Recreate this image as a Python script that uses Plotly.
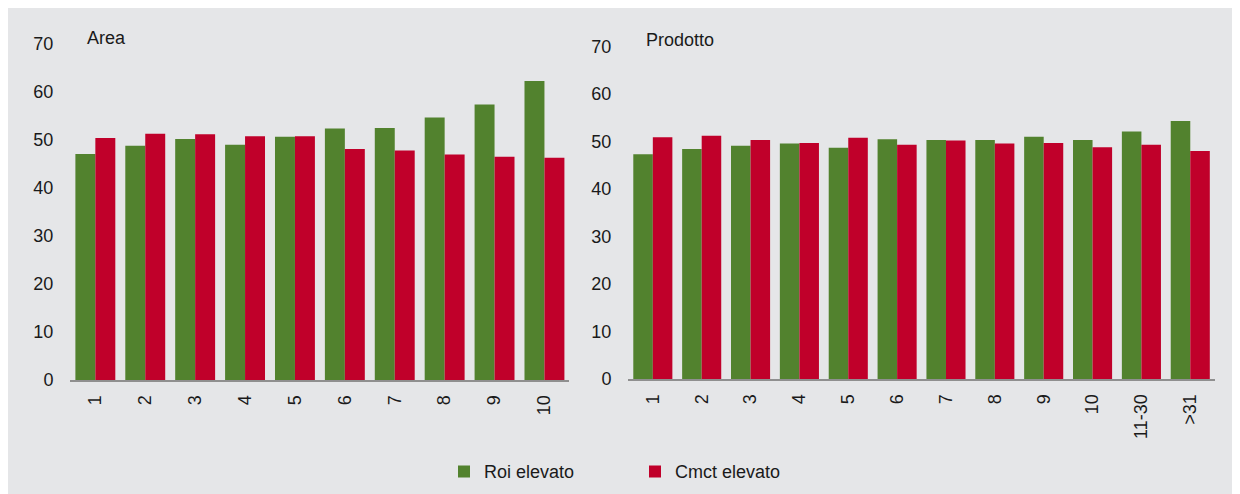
import plotly.graph_objects as go

W, H = 1240, 494

area_cats = ["1", "2", "3", "4", "5", "6", "7", "8", "9", "10"]
area_roi = [47.1, 48.8, 50.2, 49.0, 50.7, 52.4, 52.5, 54.7, 57.4, 62.3]
area_cmct = [50.4, 51.3, 51.2, 50.8, 50.8, 48.1, 47.8, 47.0, 46.5, 46.3]

prod_cats = ["1", "2", "3", "4", "5", "6", "7", "8", "9", "10", "11-30", ">31"]
prod_roi = [47.3, 48.4, 49.1, 49.6, 48.7, 50.5, 50.3, 50.3, 51.0, 50.3, 52.1, 54.3]
prod_cmct = [50.9, 51.2, 50.3, 49.7, 50.8, 49.3, 50.2, 49.6, 49.7, 48.8, 49.3, 48.0]

GREEN = "#52822e"
RED = "#c0002a"
BG = "#e5e6e8"
TXT = "#1a1a1a"
FONT = "Liberation Sans, Arial, sans-serif"
FS = 18

fig = go.Figure()
fig.add_trace(go.Bar(x=area_cats, y=area_roi, name="Roi elevato", marker_color=GREEN,
                     xaxis="x", yaxis="y", legendgroup="roi"))
fig.add_trace(go.Bar(x=area_cats, y=area_cmct, name="Cmct elevato", marker_color=RED,
                     xaxis="x", yaxis="y", legendgroup="cmct"))
fig.add_trace(go.Bar(x=prod_cats, y=prod_roi, name="Roi elevato", marker_color=GREEN,
                     xaxis="x2", yaxis="y2", legendgroup="roi", showlegend=False))
fig.add_trace(go.Bar(x=prod_cats, y=prod_cmct, name="Cmct elevato", marker_color=RED,
                     xaxis="x2", yaxis="y2", legendgroup="cmct", showlegend=False))

xcommon = dict(type="category", showgrid=False, zeroline=False, showline=True,
               linecolor="#8f8f8f", linewidth=2, ticks="", tickangle=-90,
               tickfont=dict(family=FONT, size=FS, color=TXT),
               ticklabelstandoff=6, automargin=False)
ycommon = dict(range=[0, 70], dtick=10, showgrid=False, zeroline=False, showline=False,
               ticks="", tickfont=dict(family=FONT, size=FS, color=TXT),
               ticklabelstandoff=16, automargin=False)

fig.update_layout(
    template="none",
    width=W, height=H,
    margin=dict(l=0, r=0, t=0, b=0, autoexpand=False),
    paper_bgcolor=BG,
    plot_bgcolor="rgba(0,0,0,0)",
    barmode="group", bargap=0.2, bargroupgap=0,
    font=dict(family=FONT, size=FS, color=TXT),
    xaxis=dict(domain=[62.4 / W, 561.4 / W], anchor="y", **xcommon),
    yaxis=dict(domain=[122 / H, 458 / H], anchor="x", **ycommon),
    xaxis2=dict(domain=[620.4 / W, 1206.7 / W], anchor="y2", **xcommon),
    yaxis2=dict(domain=[123 / H, 455.5 / H], anchor="x2", **ycommon),
    showlegend=True,
    legend=dict(orientation="h", x=436 / W, xanchor="left", y=1 - 463.7 / H,
                yanchor="middle", entrywidth=146, bgcolor="rgba(0,0,0,0)",
                font=dict(family=FONT, size=FS, color=TXT), traceorder="normal"),
    annotations=[
        dict(text="Area", xref="paper", yref="paper", x=77 / W, y=1 - 30 / H,
             xanchor="left", yanchor="middle", showarrow=False,
             font=dict(family=FONT, size=FS, color=TXT)),
        dict(text="Prodotto", xref="paper", yref="paper", x=636 / W, y=1 - 32 / H,
             xanchor="left", yanchor="middle", showarrow=False,
             font=dict(family=FONT, size=FS, color=TXT)),
    ],
)

fig.write_html("out.html")
